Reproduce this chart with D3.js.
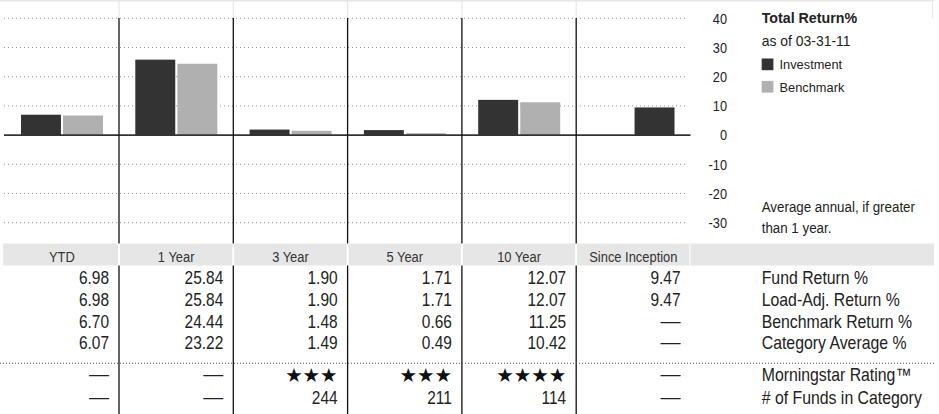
<!DOCTYPE html>
<html>
<head>
<meta charset="utf-8">
<script src="https://cdn.jsdelivr.net/npm/d3@7"></script>
<style>
  html, body { margin: 0; padding: 0; background: #fff; }
  svg { display: block; }
  text { font-family: "Liberation Sans", Arial, sans-serif; fill: #222; }
</style>
</head>
<body>
<svg id="chart" width="939" height="414"></svg>
<script>
// Trailing-period returns and supporting table rows
const categories = ["YTD", "1 Year", "3 Year", "5 Year", "10 Year", "Since Inception"];
const investment = [6.98, 25.84, 1.90, 1.71, 12.07, 9.47];
const loadAdjusted = [6.98, 25.84, 1.90, 1.71, 12.07, 9.47];
const benchmark = [6.70, 24.44, 1.48, 0.66, 11.25, null];
const categoryAverage = [6.07, 23.22, 1.49, 0.49, 10.42, null];
const ratings = [null, null, 3, 3, 4, null];
const fundCounts = [null, null, 244, 211, 114, null];
const yTicks = [40, 30, 20, 10, 0, -10, -20, -30];
const rowLabels = ["Fund Return %", "Load-Adj. Return %", "Benchmark Return %",
                   "Category Average %", "Morningstar Rating\u2122", "# of Funds in Category"];
const seriesNames = ["Investment", "Benchmark"];
const seriesColors = ["#333333", "#b0b0b0"];

const svg = d3.select("#chart");
const H = 414;

const x = d3.scaleBand().domain(categories).range([4.7, 690.5]);
const slot = d3.scaleBand().domain(seriesNames).range([16.3, 98.3]).paddingInner(0.05);
const y = d3.scaleLinear().domain([-30, 40]).range([222.7, 18.3]);
const color = d3.scaleOrdinal().domain(seriesNames).range(seriesColors);

const bandTop = 243.5, bandBottom = 265.5;
const labelX = 761.7;
const DASH = "\u2014";

// condensed look: regular sans, squeezed horizontally around its anchor
function condensed(sel, fx, fy, size, sx, anchor = "start") {
  return sel
    .attr("transform", (d, i) => `translate(${fx(d, i)},${fy(d, i)}) scale(${sx},1)`)
    .attr("text-anchor", anchor)
    .style("font-size", size + "px");
}

// top rule and faint column ticks above the plot
svg.append("rect").attr("x", 0).attr("y", 0).attr("width", 934).attr("height", 1.6).attr("fill", "#e6e6e6");
const faint = categories.slice(1).map(c => x(c)).concat([932.5]);
svg.selectAll("line.faint").data(faint).join("line")
  .attr("x1", d => d).attr("x2", d => d).attr("y1", 1).attr("y2", 18)
  .attr("stroke", "#e8e8e8").attr("stroke-width", 1.2);

// dotted gridlines
svg.selectAll("line.grid").data(yTicks.filter(t => t !== 0)).join("line")
  .attr("x1", 4).attr("x2", 688)
  .attr("y1", d => y(d)).attr("y2", d => y(d))
  .attr("stroke", "#9a9a9a").attr("stroke-width", 1).attr("stroke-dasharray", "1,3");

// bars
const bars = [];
categories.forEach((c, i) => {
  if (benchmark[i] == null) {
    // single-series period: the investment bar occupies the right-hand slot
    bars.push({ c, s: "Investment", pos: "Benchmark", v: investment[i] });
  } else {
    bars.push({ c, s: "Investment", pos: "Investment", v: investment[i] });
    bars.push({ c, s: "Benchmark", pos: "Benchmark", v: benchmark[i] });
  }
});
svg.selectAll("rect.bar").data(bars).join("rect")
  .attr("x", d => x(d.c) + slot(d.pos))
  .attr("width", slot.bandwidth())
  .attr("y", d => y(Math.max(0, d.v)))
  .attr("height", d => Math.abs(y(d.v) - y(0)))
  .attr("fill", d => color(d.s));

// zero line
svg.append("line").attr("x1", 4).attr("x2", 690.5).attr("y1", y(0)).attr("y2", y(0))
  .attr("stroke", "#333").attr("stroke-width", 1.6);

// y tick labels on the right
condensed(svg.selectAll("text.tick").data(yTicks).join("text"),
  () => 727, d => y(d) + 5.2, 14.5, 0.88, "end").text(d => d);

// legend block
condensed(svg.append("text"), () => labelX, () => 22.7, 15, 0.95).style("font-weight", "bold").text("Total Return%");
condensed(svg.append("text"), () => labelX, () => 45.7, 15, 0.93).text("as of 03-31-11");
const leg = svg.selectAll("g.leg").data(seriesNames).join("g")
  .attr("transform", (d, i) => `translate(${labelX},${58.5 + i * 22.4})`);
leg.append("rect").attr("width", 11.7).attr("height", 11.7).attr("fill", d => color(d));
condensed(leg.append("text"), () => 17.8, () => 10.6, 13.5, 0.95).text(d => d);

condensed(svg.append("text"), () => labelX, () => 211.7, 15, 0.89).text("Average annual, if greater");
condensed(svg.append("text"), () => labelX, () => 233.3, 15, 0.89).text("than 1 year.");

// header band
const headerCells = categories.map(c => ({ x0: x(c) + (c === categories[0] ? -1.5 : 1), x1: x(c) + x.bandwidth() - 1 }));
headerCells.push({ x0: x.range()[1], x1: 934 });
svg.selectAll("rect.head").data(headerCells).join("rect")
  .attr("x", d => d.x0).attr("y", bandTop).attr("width", d => d.x1 - d.x0).attr("height", bandBottom - bandTop)
  .attr("fill", "#e6e6e6");
condensed(svg.selectAll("text.head").data(categories).join("text"),
  d => x(d) + x.bandwidth() / 2, () => 261.5, 14.5, 0.89, "middle")
  .style("fill", "#333").text(d => d);

// column dividers (interrupted by the header band)
const dividers = categories.slice(1).map(c => x(c));
[[18, bandTop], [bandBottom, H]].forEach(([a, b]) => {
  svg.append("g").selectAll("line").data(dividers).join("line")
    .attr("x1", d => d).attr("x2", d => d).attr("y1", a).attr("y2", b)
    .attr("stroke", "#111").attr("stroke-width", 1.3);
});

// table rows
const rowY = [284.2, 305.9, 327.6, 349.2, 380.5, 403.5];
const fmt = d3.format(".2f");
const valueRight = c => x(c) + x.bandwidth() - 10;

function cellRow(values, r, formatter) {
  const g = svg.append("g");
  const cells = categories.map((c, i) => ({ c, v: values[i] }));
  // numeric cells
  condensed(g.selectAll("text.num").data(cells.filter(d => d.v != null)).join("text"),
    d => valueRight(d.c), () => rowY[r], 18, 0.86, "end").text(d => formatter(d.v));
  // empty cells shown as a long dash
  g.selectAll("text.na").data(cells.filter(d => d.v == null)).join("text")
    .attr("x", d => valueRight(d.c)).attr("y", rowY[r]).attr("text-anchor", "end")
    .style("font-size", "20px").text(DASH);
  return g;
}

[investment, loadAdjusted, benchmark, categoryAverage].forEach((row, r) => cellRow(row, r, fmt));

// separator between returns and rating rows
svg.append("line").attr("x1", 0).attr("x2", 935).attr("y1", 363.3).attr("y2", 363.3)
  .attr("stroke", "#555").attr("stroke-width", 1).attr("stroke-dasharray", "1,2");

// star ratings
const ratingCells = categories.map((c, i) => ({ c, v: ratings[i] }));
svg.append("g").selectAll("text").data(ratingCells.filter(d => d.v != null)).join("text")
  .attr("x", d => valueRight(d.c)).attr("y", rowY[4] + 1).attr("text-anchor", "end")
  .style("font-family", "DejaVu Sans").style("font-size", "19.5px").style("fill", "#111")
  .text(d => "\u2605".repeat(d.v));
svg.append("g").selectAll("text").data(ratingCells.filter(d => d.v == null)).join("text")
  .attr("x", d => valueRight(d.c)).attr("y", rowY[4]).attr("text-anchor", "end")
  .style("font-size", "20px").text(DASH);

cellRow(fundCounts, 5, d => d);

// row labels
condensed(svg.selectAll("text.rowlabel").data(rowLabels).join("text"),
  () => labelX, (d, i) => rowY[i], 18, 0.88).text(d => d);
</script>
</body>
</html>
